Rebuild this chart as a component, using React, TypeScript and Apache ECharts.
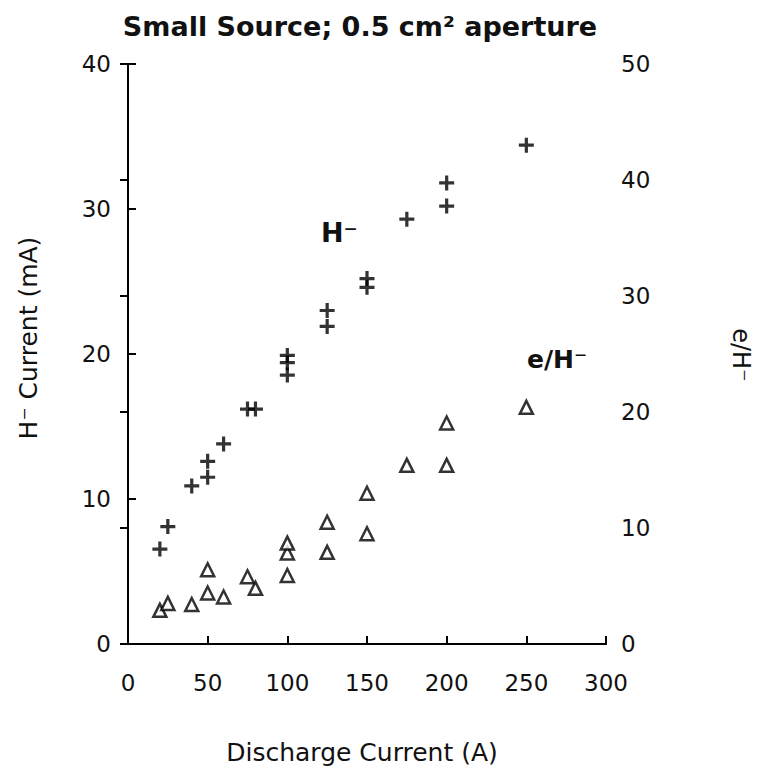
import React, { useEffect, useRef } from "react";
import * as echarts from "echarts";

// Discharge current (A), H- current (mA)
const hMinusData: [number, number][] = [
  [20, 6.55], [25, 8.1], [40, 10.9], [50, 11.5], [50, 12.6], [60, 13.8],
  [75, 16.2], [80, 16.2], [100, 18.55], [100, 19.4], [100, 19.9],
  [125, 21.9], [125, 23.0], [150, 24.6], [150, 25.2], [175, 29.3],
  [200, 30.2], [200, 31.8], [250, 34.4],
];

// Discharge current (A), e/H- ratio (right axis)
const eOverHData: [number, number][] = [
  [20, 2.9], [25, 3.5], [40, 3.4], [50, 4.4], [50, 6.4], [60, 4.05],
  [75, 5.8], [80, 4.8], [100, 5.9], [100, 7.85], [100, 8.7],
  [125, 7.9], [125, 10.5], [150, 9.5], [150, 13.0], [175, 15.4],
  [200, 15.4], [200, 19.05], [250, 20.4],
];

const xRange = [0, 300];
const xStep = 50;
const leftRange = [0, 40];
const leftStep = 10;
const rightRange = [0, 50];
const rightStep = 10;

const titleText = "Small Source; 0.5 cm\u00B2 aperture";
const xName = "Discharge Current (A)";
const leftName = "H\u207B Current (mA)";
const rightName = "e/H\u207B";
const hLabel = "H\u207B";
const eLabel = "e/H\u207B";

const FONT = "DejaVu Sans";
const INK = "#111";

const crossPath =
  "path://M5.5,0 h3 v5.5 h5.5 v3 h-5.5 v5.5 h-3 v-5.5 h-5.5 v-3 h5.5 z";

export default function App() {
  const ref = useRef<HTMLDivElement>(null);
  useEffect(() => {
    if (!ref.current) return;
    const chart = echarts.init(ref.current, null, { renderer: "svg" });
    const axisLine = { show: true, lineStyle: { color: "#000", width: 2 } };
    const tick = { show: true, inside: true, length: 8, lineStyle: { color: "#000", width: 2 } };
    const label = { color: INK, fontFamily: FONT, fontSize: 23 };
    chart.setOption({
      animation: false,
      backgroundColor: "#fff",
      grid: { left: 128, right: 151, top: 64, bottom: 125, containLabel: false },
      xAxis: [
        {
          type: "value", position: "bottom", min: xRange[0], max: xRange[1], interval: xStep,
          axisLine, axisTick: tick, splitLine: { show: false },
          axisLabel: { ...label, margin: 27 },
        },
        {
          type: "value", position: "top", min: xRange[0], max: xRange[1], interval: xStep,
          axisLine, axisTick: { show: false }, axisLabel: { show: false }, splitLine: { show: false },
        },
      ],
      yAxis: [
        {
          type: "value", position: "left", min: leftRange[0], max: leftRange[1], interval: leftStep,
          axisLine, axisTick: tick, splitLine: { show: false },
          axisLabel: { ...label, margin: 17 },
        },
        {
          type: "value", position: "right", min: rightRange[0], max: rightRange[1], interval: rightStep,
          axisLine, axisTick: tick, splitLine: { show: false },
          axisLabel: { ...label, margin: 15 },
        },
      ],
      series: [
        {
          type: "scatter", xAxisIndex: 0, yAxisIndex: 0, data: hMinusData,
          symbol: crossPath, symbolSize: 15, itemStyle: { color: "#000" },
        },
        {
          type: "scatter", xAxisIndex: 0, yAxisIndex: 1, data: eOverHData,
          symbol: "triangle", symbolSize: 13,
          itemStyle: { color: "#fff", borderColor: "#000", borderWidth: 2.5 },
        },
      ],
      graphic: [
        {
          type: "text", x: 360, y: 26,
          style: { text: titleText, fill: INK, font: `bold 27px "${FONT}"`, align: "center", verticalAlign: "middle" },
        },
        {
          type: "text", x: 362, y: 752,
          style: { text: xName, fill: INK, font: `25px "${FONT}"`, align: "center", verticalAlign: "middle" },
        },
        {
          type: "text", x: 28, y: 338, rotation: Math.PI / 2,
          style: { text: leftName, fill: INK, font: `25px "${FONT}"`, align: "center", verticalAlign: "middle" },
        },
        {
          type: "text", x: 741, y: 355, rotation: -Math.PI / 2,
          style: { text: rightName, fill: INK, font: `24px "${FONT}"`, align: "center", verticalAlign: "middle" },
        },
        {
          type: "text", x: 321, y: 232,
          style: { text: hLabel, fill: INK, font: `bold 27px "${FONT}"`, align: "left", verticalAlign: "middle" },
        },
        {
          type: "text", x: 527, y: 359,
          style: { text: eLabel, fill: INK, font: `bold 25px "${FONT}"`, align: "left", verticalAlign: "middle" },
        },
      ],
    });
    return () => chart.dispose();
  }, []);
  return (
    <div
      ref={ref}
      style={{ position: "fixed", left: 0, top: 0, width: 757, height: 769, background: "#fff" }}
    />
  );
}
